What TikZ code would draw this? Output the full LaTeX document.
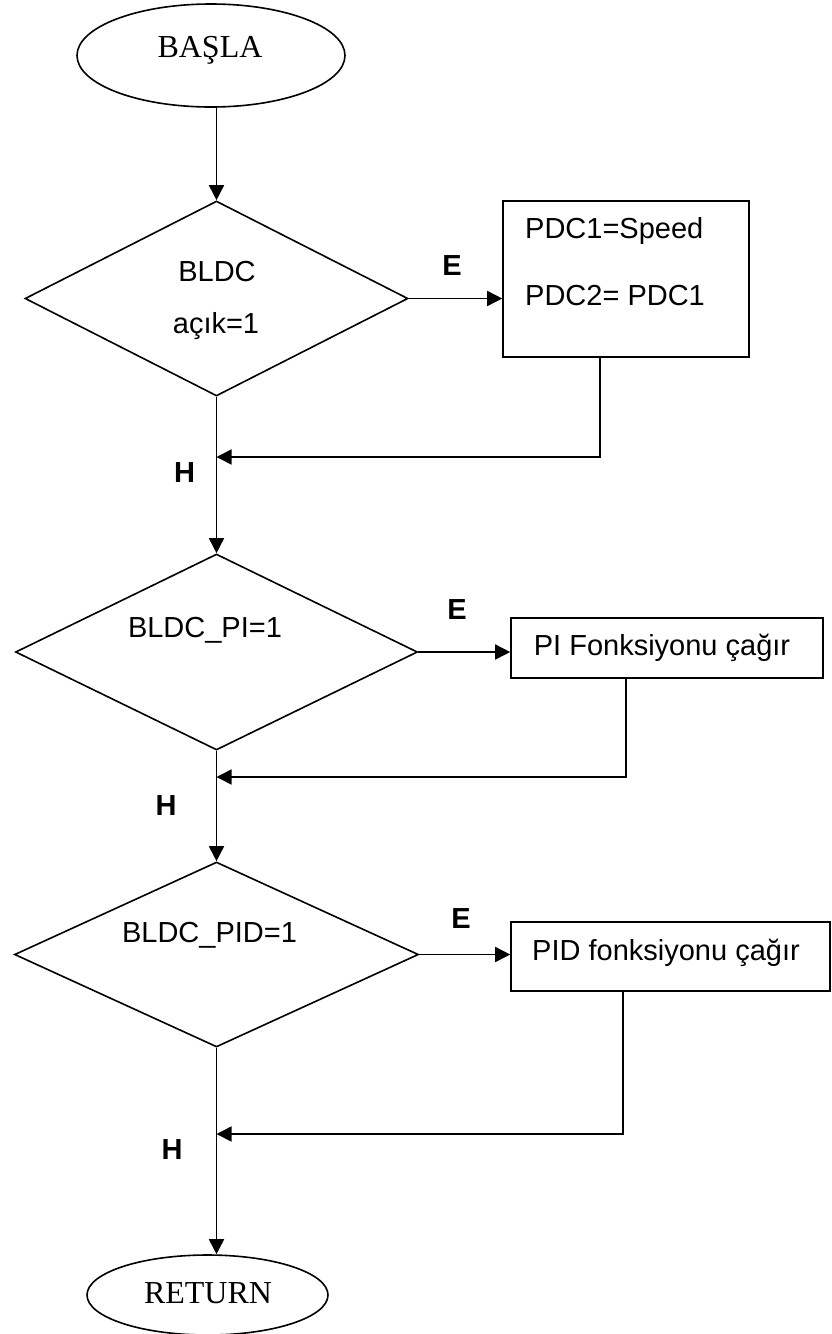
\documentclass[tikz,border=0pt]{standalone}
\usepackage{fontspec}
\setmainfont{Liberation Serif}
\setsansfont{Liberation Sans}
\usetikzlibrary{shapes.geometric,arrows.meta}

\begin{document}
\begin{tikzpicture}[x=1pt,y=-1pt,
  line/.style={line width=1.6pt},
  arr/.style={line, -{Triangle[length=15pt,width=15pt]}},
  terminal/.style={ellipse, draw, line width=1.6pt, inner sep=0pt},
  decision/.style={diamond, draw, line width=1.6pt, inner sep=0pt},
  process/.style={rectangle, draw, line width=1.6pt, inner sep=0pt},
  serif/.style={font=\fontsize{32}{38}\selectfont, anchor=base, inner sep=0pt},
  txt/.style={font=\sffamily\fontsize{29}{34}\selectfont, anchor=base, inner sep=0pt},
  yn/.style={font=\sffamily\bfseries\fontsize{29}{34}\selectfont, anchor=base, inner sep=0pt}]

\useasboundingbox (0,0) rectangle (831,1334);

% shapes
\node[terminal, minimum width=268pt, minimum height=103pt] (start) at (211,55.5) {};
\node[decision, minimum width=383pt, minimum height=195pt] (d1) at (216.5,298.5) {};
\node[process, minimum width=246pt, minimum height=156pt] (b1) at (626,279) {};
\node[decision, minimum width=402pt, minimum height=196pt] (d2) at (216.5,652) {};
\node[process, minimum width=312pt, minimum height=60pt] (b2) at (667,648) {};
\node[decision, minimum width=404pt, minimum height=185pt] (d3) at (216.5,954.5) {};
\node[process, minimum width=319pt, minimum height=69pt] (b3) at (670.5,956.5) {};
\node[terminal, minimum width=241pt, minimum height=80pt] (stop) at (207.5,1295) {};

% texts
\node[serif] (startlbl) at (210,57) {BAŞLA};
\node[txt] (d1a) at (217,281) {BLDC};
\node[txt] (d1b) at (216,333) {açık=1};
\node[txt, anchor=base west] (b1a) at (525,238) {PDC1=Speed};
\node[txt, anchor=base west] (b1b) at (525,305) {PDC2= PDC1};
\node[txt] (d2a) at (205,637) {BLDC\_PI=1};
\node[txt] (b2a) at (662,655) {PI Fonksiyonu çağır};
\node[txt] (d3a) at (209.5,942) {BLDC\_PID=1};
\node[txt] (b3a) at (666,960) {PID fonksiyonu çağır};
\node[serif] (stoplbl) at (208,1303) {RETURN};

% yes / no labels
\node[yn] (e1) at (452,275) {E};
\node[yn] (e2) at (457,619) {E};
\node[yn] (e3) at (461,928) {E};
\node[yn] (h1) at (184.5,482) {H};
\node[yn] (h2) at (166,815) {H};
\node[yn] (h3) at (172,1159) {H};

% return points of the side branches
\coordinate (r1) at (600,457);
\coordinate (r2) at (626,777);
\coordinate (r3) at (623,1134);

% connectors
\draw[arr] (start.south -| d1.north) -- (d1.north);
\draw[arr] (d1.east) -- (d1.east -| b1.west);
\draw[arr] (b1.south -| r1) -- (r1) -- (d1.south |- r1);
\draw[arr] (d1.south) -- (d2.north);
\draw[arr] (d2.east) -- (d2.east -| b2.west);
\draw[arr] (b2.south -| r2) -- (r2) -- (d2.south |- r2);
\draw[arr] (d2.south) -- (d3.north);
\draw[arr] (d3.east) -- (d3.east -| b3.west);
\draw[arr] (b3.south -| r3) -- (r3) -- (d3.south |- r3);
\draw[arr] (d3.south) -- (d3.south |- stop.north);
\end{tikzpicture}
\end{document}
